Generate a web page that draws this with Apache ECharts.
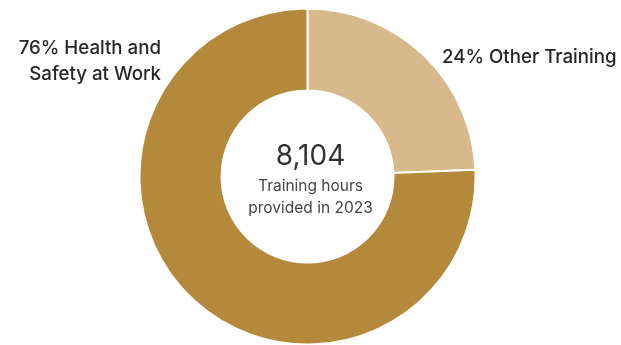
<!DOCTYPE html>
<html><head><meta charset="utf-8">
<script src="https://cdn.jsdelivr.net/npm/echarts@6/dist/echarts.min.js"></script>
<style>html,body{margin:0;padding:0;background:#fff}#c{width:621px;height:345px}</style>
</head><body><div id="c"></div>
<script>
const categories = ['Other Training', 'Health and Safety at Work'];
const values = [1974, 6130];
const labelTexts = ['24% Other Training', '76% Health and\nSafety at Work'];
const totalText = '8,104';
const subText = 'Training hours\nprovided in 2023';
const colors = ['#D8B98C', '#B5893B'];
const labelPos = [
  {x: 442, y: 57, align: 'left'},
  {x: 161, y: 61, align: 'right'}
];
const chart = echarts.init(document.getElementById('c'), null, {renderer: 'canvas'});
chart.setOption({
  animation: false,
  series: [{
    type: 'pie',
    center: [307.5, 176.5],
    radius: [86, 168],
    startAngle: 90,
    clockwise: true,
    avoidLabelOverlap: false,
    itemStyle: {borderColor: '#fff', borderWidth: 2},
    label: {
      show: true,
      formatter: p => labelTexts[p.dataIndex],
      fontFamily: 'Inter',
      fontSize: 18.7,
      fontWeight: 500,
      color: '#262626',
      lineHeight: 26
    },
    labelLine: {show: false},
    labelLayout: function (params) {
      const p = labelPos[params.dataIndex];
      return {x: p.x, y: p.y, align: p.align, verticalAlign: 'middle'};
    },
    data: categories.map((c, i) => ({name: c, value: values[i], itemStyle: {color: colors[i]}}))
  }],
  graphic: [
    {type: 'text', left: 'center', top: 143, style: {text: totalText, font: '400 28px Inter', fill: '#333', textAlign: 'center'}},
    {type: 'text', left: 'center', top: 176, style: {text: subText, font: '400 15.5px Inter', fill: '#444', textAlign: 'center', lineHeight: 21.5}}
  ]
});
</script></body></html>
